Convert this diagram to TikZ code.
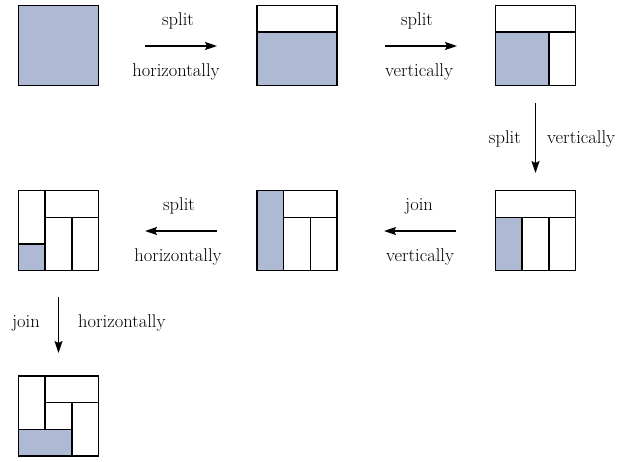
\documentclass[tikz,border=0pt]{standalone}
\usetikzlibrary{arrows.meta}
\definecolor{cellblue}{RGB}{174,186,212}
\begin{document}
\begin{tikzpicture}[x=1pt,y=-1pt,
  frame/.style={draw=black,line width=1.4pt},
  grid/.style={draw=black,line width=1.4pt},
  shade/.style={fill=cellblue},
  conn/.style={line width=1.6pt,-{Stealth[length=12pt,width=8pt,inset=2pt]}},
  lbl/.style={inner sep=0pt,font=\fontsize{18.5}{22}\selectfont},
  cell/.style={x=26.667pt,y=-26.667pt}]
\useasboundingbox (0,0) rectangle (621,461);

% Box 1
\begin{scope}[shift={(18.5,5.5)},cell]
  \fill[shade] (0,0) rectangle (3,3);
  \draw[frame] (0,0) rectangle (3,3);
  \coordinate (b1) at (1.5,1.5);
\end{scope}
% Box 2
\begin{scope}[shift={(257,5.5)},cell]
  \fill[shade] (0,1) rectangle (3,3);
  \draw[grid] (0,1) -- (3,1);
  \draw[frame] (0,0) rectangle (3,3);
  \coordinate (b2) at (1.5,1.5);
\end{scope}
% Box 3
\begin{scope}[shift={(495.5,5.5)},cell]
  \fill[shade] (0,1) rectangle (2,3);
  \draw[grid] (0,1) -- (3,1) (2,1) -- (2,3);
  \draw[frame] (0,0) rectangle (3,3);
  \coordinate (b3) at (1.5,1.5);
\end{scope}
% Box 4
\begin{scope}[shift={(495.5,190.7)},cell]
  \fill[shade] (0,1) rectangle (1,3);
  \draw[grid] (0,1) -- (3,1) (1,1) -- (1,3) (2,1) -- (2,3);
  \draw[frame] (0,0) rectangle (3,3);
  \coordinate (b4) at (1.5,1.5);
\end{scope}
% Box 5
\begin{scope}[shift={(257,190.7)},cell]
  \fill[shade] (0,0) rectangle (1,3);
  \draw[grid] (1,0) -- (1,3) (1,1) -- (3,1) (2,1) -- (2,3);
  \draw[frame] (0,0) rectangle (3,3);
  \coordinate (b5) at (1.5,1.5);
\end{scope}
% Box 6
\begin{scope}[shift={(18.5,190.7)},cell]
  \fill[shade] (0,2) rectangle (1,3);
  \draw[grid] (1,0) -- (1,3) (1,1) -- (3,1) (2,1) -- (2,3) (0,2) -- (1,2);
  \draw[frame] (0,0) rectangle (3,3);
  \coordinate (b6) at (1.5,1.5);
\end{scope}
% Box 7
\begin{scope}[shift={(18.5,376)},cell]
  \fill[shade] (0,2) rectangle (2,3);
  \draw[grid] (1,0) -- (1,2) (1,1) -- (3,1) (2,1) -- (2,3) (0,2) -- (2,2);
  \draw[frame] (0,0) rectangle (3,3);
  \coordinate (b7) at (1.5,1.5);
\end{scope}

% Arrow end points
\coordinate (a1s) at (145,46);   \coordinate (a1e) at (217,46);
\coordinate (a2s) at (385,46);   \coordinate (a2e) at (457,46);
\coordinate (a3s) at (535.5,103); \coordinate (a3e) at (535.5,173);
\coordinate (a4s) at (456,231);  \coordinate (a4e) at (384,231);
\coordinate (a5s) at (217,231);  \coordinate (a5e) at (145,231);
\coordinate (a6s) at (58.5,297); \coordinate (a6e) at (58.5,353);

\draw[conn] (a1s) -- (a1e);
\draw[conn] (a2s) -- (a2e);
\draw[conn] (a3s) -- (a3e);
\draw[conn] (a4s) -- (a4e);
\draw[conn] (a5s) -- (a5e);
\draw[conn] (a6s) -- (a6e);

% Labels
\node[lbl] (t1a) at (178,21) {split};
\node[lbl] (t1b) at (176,72) {horizontally};
\node[lbl] (t2a) at (417,21) {split};
\node[lbl] (t2b) at (419,72) {vertically};
\node[lbl,anchor=east] (t3a) at (521,139) {split};
\node[lbl,anchor=west] (t3b) at (547,139) {vertically};
\node[lbl] (t4a) at (419,206) {join};
\node[lbl] (t4b) at (420,257) {vertically};
\node[lbl] (t5a) at (179,206) {split};
\node[lbl] (t5b) at (178,257) {horizontally};
\node[lbl,anchor=east] (t6a) at (40,323) {join};
\node[lbl,anchor=west] (t6b) at (78,323) {horizontally};
\end{tikzpicture}
\end{document}
